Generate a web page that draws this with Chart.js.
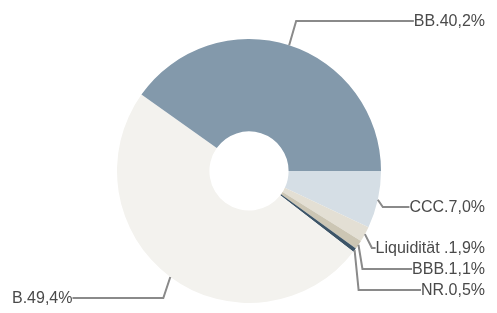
<!DOCTYPE html>
<html><head><meta charset="utf-8">
<script src="https://cdn.jsdelivr.net/npm/chart.js@4"></script>
<style>html,body{margin:0;padding:0;background:#fff}#w{width:497px;height:313px}</style>
</head><body><div id="w"><canvas id="c"></canvas></div>
<script>
const categories = ["CCC", "Liquidität ", "BBB", "NR", "B", "BB"];
const values = [7.0, 1.9, 1.1, 0.5, 49.4, 40.2];
const valueLabels = ["7,0%", "1,9%", "1,1%", "0,5%", "49,4%", "40,2%"];
const colors = ["#d5dee5", "#e3dfd4", "#ccc6b4", "#3c5467", "#f3f2ee", "#8399ab"];

// label layout: elbow offset dx, label line y, side
const layoutCfg = [
  {dx: 5, y: 207, side: 'r'},
  {dx: 7, y: 248, side: 'r'},
  {dx: 4, y: 269, side: 'r'},
  {dx: 4, y: 290, side: 'r'},
  {dx: -7, y: 298, side: 'l'},
  {dx: 7, y: 21, side: 'r'}
];

const leaderPlugin = {
  id: 'leaders',
  afterDatasetsDraw(chart) {
    const ctx = chart.ctx;
    const meta = chart.getDatasetMeta(0);
    ctx.save();
    ctx.font = '16px "Liberation Sans", Arial, sans-serif';
    ctx.textBaseline = 'middle';
    meta.data.forEach((arc, i) => {
      const p = arc.getProps(['x','y','startAngle','endAngle','outerRadius'], true);
      const mid = (p.startAngle + p.endAngle) / 2;
      const ax = p.x + Math.cos(mid) * p.outerRadius;
      const ay = p.y + Math.sin(mid) * p.outerRadius;
      const L = layoutCfg[i];
      const ex = ax + L.dx, ey = L.y;
      const text = categories[i] + '.' + valueLabels[i];
      const tw = ctx.measureText(text).width;
      let tx, lx;
      if (L.side === 'r') { tx = 485 - tw; lx = tx; }
      else { tx = 12; lx = tx + tw; }
      ctx.strokeStyle = '#8a8a8a';
      ctx.lineWidth = 2;
      ctx.beginPath();
      ctx.moveTo(ax, ay);
      ctx.lineTo(ex, ey);
      ctx.lineTo(lx, ey);
      ctx.stroke();
      ctx.fillStyle = '#4a4a4a';
      ctx.textAlign = 'left';
      ctx.fillText(text, tx, ey + 1);
    });
    ctx.restore();
  }
};

new Chart(document.getElementById('c'), {
  type: 'doughnut',
  data: {
    labels: categories,
    datasets: [{data: values, backgroundColor: colors, borderWidth: 0}]
  },
  options: {
    responsive: true,
    maintainAspectRatio: false,
    animation: false,
    rotation: 90,
    cutout: '30%',
    layout: {padding: {top: 39, bottom: 10, left: 117, right: 116}},
    plugins: {legend: {display: false}, tooltip: {enabled: false}}
  },
  plugins: [leaderPlugin]
});
</script>
</body></html>
